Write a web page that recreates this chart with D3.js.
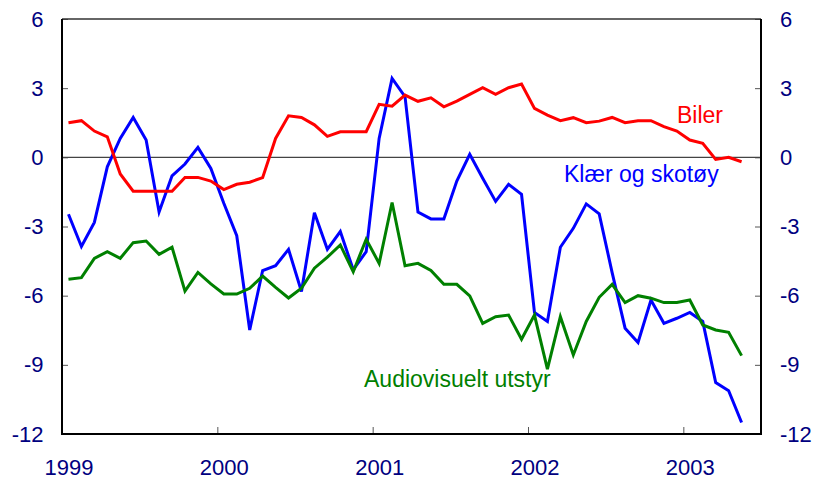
<!DOCTYPE html>
<html>
<head>
<meta charset="utf-8">
<script src="https://cdn.jsdelivr.net/npm/d3@7"></script>
<style>
	body { margin: 0; background: #fff; }
	#chart { width: 817px; height: 480px; }
</style>
</head>
<body>
<div id="chart"></div>
<script>
// monthly series, Jan 1999 - May 2003 (one value per month)
const startYear = 1999;
const yearTicks = [1999, 2000, 2001, 2002, 2003];
const yTicks = [6, 3, 0, -3, -6, -9, -12];

const biler = [1.5, 1.59, 1.14, 0.89, -0.72, -1.47, -1.47, -1.47, -1.47, -0.87, -0.87, -1.03,
	-1.4, -1.17, -1.08, -0.88, 0.82, 1.8, 1.73, 1.41, 0.91, 1.11, 1.11, 1.11,
	2.3, 2.22, 2.7, 2.43, 2.58, 2.19, 2.44, 2.73, 3.02, 2.73, 3.02, 3.18,
	2.12, 1.83, 1.59, 1.72, 1.5, 1.57, 1.73, 1.5, 1.59, 1.59, 1.33, 1.14,
	0.75, 0.61, -0.09, 0.0, -0.19];

const klaer = [-2.47, -3.87, -2.82, -0.41, 0.82, 1.73, 0.75, -2.37, -0.8, -0.29, 0.43, -0.48,
	-1.99, -3.4, -7.49, -4.91, -4.7, -3.99, -5.82, -2.4, -3.99, -3.22, -4.88, -4.09,
	0.82, 3.42, 2.63, -2.37, -2.67, -2.67, -1.03, 0.13, -0.91, -1.91, -1.17, -1.6,
	-6.73, -7.12, -3.9, -3.08, -2.02, -2.45, -5.0, -7.41, -8.03, -6.19, -7.2, -6.98,
	-6.73, -7.12, -9.77, -10.12, -11.5];

const audio = [-5.29, -5.22, -4.38, -4.09, -4.38, -3.7, -3.63, -4.21, -3.9, -5.8, -4.99, -5.49,
	-5.93, -5.93, -5.68, -5.15, -5.64, -6.1, -5.68, -4.81, -4.33, -3.8, -4.96, -3.55,
	-4.6, -1.96, -4.7, -4.6, -4.91, -5.51, -5.51, -6.01, -7.2, -6.91, -6.84, -7.89,
	-6.84, -9.19, -6.91, -8.57, -7.12, -6.07, -5.51, -6.3, -6.0, -6.11, -6.3, -6.3,
	-6.19, -7.27, -7.49, -7.59, -8.6];

// ----------------------------------
// SIZES AND SCALES
// ----------------------------------
const width = 817, height = 480;
const margin = {top: 19, right: 56, bottom: 46, left: 62};
const innerWidth = width - margin.left - margin.right,
	innerHeight = height - margin.top - margin.bottom;
const font = '"Liberation Sans", Arial, sans-serif';
const navy = '#000080';

// points sit in the middle of each month
const monthPos = i => startYear + (i + 0.5) / 12;

const xScale = d3.scaleLinear()
	.domain([1999, 2003.5])
	.range([0, innerWidth]);

const yScale = d3.scaleLinear()
	.domain([-12, 6])
	.range([innerHeight, 0]);

const svg = d3.select('#chart')
	.append('svg')
	.attr('width', width)
	.attr('height', height);

const chartInner = svg.append('g')
	.attr('transform', `translate(${margin.left},${margin.top})`);

// ----------------------------------
// AXES
// ----------------------------------
function styleAxis(g){
	g.select('.domain').remove();
	g.selectAll('line').attr('stroke', '#555').attr('stroke-width', 1);
	g.selectAll('text')
		.style('font-family', font)
		.style('font-size', '22px')
		.attr('fill', navy);
}

// plain hyphen for negatives, like the original
const plain = d => `${d}`;

chartInner.append('g')
	.call(d3.axisLeft(yScale).tickValues(yTicks).tickSize(-6).tickPadding(18.5).tickFormat(plain))
	.call(styleAxis);

chartInner.append('g')
	.attr('transform', `translate(${innerWidth},0)`)
	.call(d3.axisRight(yScale).tickValues(yTicks).tickSize(-6).tickPadding(19).tickFormat(plain))
	.call(styleAxis);

// year ticks on the boundaries, labels under mid-January
chartInner.append('g')
	.attr('transform', `translate(0,${innerHeight})`)
	.call(d3.axisBottom(xScale).tickValues(yearTicks.slice(1)).tickSize(-7).tickFormat(''))
	.call(styleAxis);

chartInner.append('g')
	.attr('transform', `translate(0,${innerHeight})`)
	.call(d3.axisBottom(xScale)
		.tickValues(yearTicks.map(y => y + 0.5 / 12))
		.tickSize(0)
		.tickPadding(25)
		.tickFormat(d => Math.floor(d)))
	.call(styleAxis);

// zero line
chartInner.append('line')
	.attr('x1', 0).attr('x2', innerWidth)
	.attr('y1', yScale(0)).attr('y2', yScale(0))
	.attr('stroke', '#444')
	.attr('stroke-width', 1.2);

// frame
chartInner.append('line')
	.attr('x1', 0).attr('x2', innerWidth)
	.attr('y1', 0).attr('y2', 0)
	.attr('stroke', '#333')
	.attr('stroke-width', 1.5);
chartInner.append('path')
	.attr('d', `M0,0V${innerHeight}H${innerWidth}V0`)
	.attr('fill', 'none')
	.attr('stroke', '#000')
	.attr('stroke-width', 2);

// ----------------------------------
// LINES
// ----------------------------------
const line = d3.line()
	.x((d, i) => xScale(monthPos(i)))
	.y(d => yScale(d));

const series = [
	{name: 'Klær og skotøy', values: klaer, color: '#0000ff', lx: 564, ly: 182.3},
	{name: 'Audiovisuelt utstyr', values: audio, color: '#008000', lx: 364, ly: 386.7},
	{name: 'Biler', values: biler, color: '#ff0000', lx: 677, ly: 122.7}
];

series.forEach(s => {
	chartInner.append('path')
		.datum(s.values)
		.attr('d', line)
		.attr('fill', 'none')
		.attr('stroke', s.color)
		.attr('stroke-width', 3);
});

// series labels
series.forEach(s => {
	svg.append('text')
		.text(s.name)
		.attr('x', s.lx)
		.attr('y', s.ly)
		.attr('fill', s.color)
		.style('font-family', font)
		.style('font-size', '23px');
});
</script>
</body>
</html>
